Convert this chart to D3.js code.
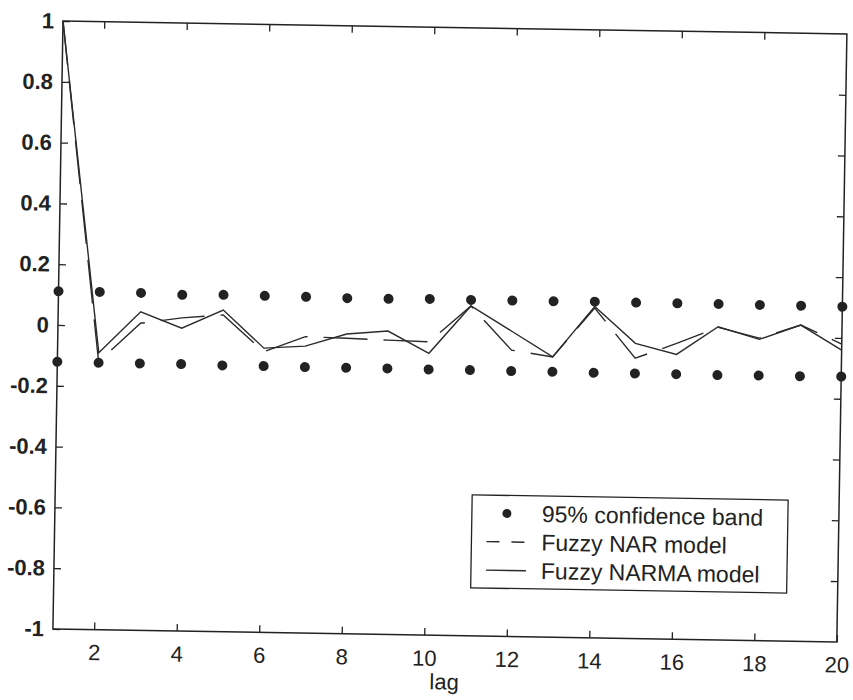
<!DOCTYPE html>
<html>
<head>
<meta charset="utf-8">
<script src="https://cdn.jsdelivr.net/npm/d3@7"></script>
<style>
  html, body { margin: 0; padding: 0; background: #fff; }
  svg { display: block; }
  text { font-family: "Liberation Sans", Arial, sans-serif; fill: #222; }
</style>
</head>
<body>
<svg id="chart" width="853" height="700"></svg>
<script>
// ---- data ----
const lags = [1,2,3,4,5,6,7,8,9,10,11,12,13,14,15,16,17,18,19,20];
const bandUpper = [0.111,0.111,0.110,0.106,0.108,0.107,0.106,0.104,0.104,0.106,0.105,0.105,0.105,0.106,0.105,0.105,0.105,0.104,0.104,0.103];
const bandLower = [-0.121,-0.122,-0.122,-0.122,-0.124,-0.124,-0.125,-0.125,-0.125,-0.126,-0.126,-0.127,-0.127,-0.128,-0.128,-0.128,-0.129,-0.128,-0.128,-0.127];
const narACF   = [1.0,-0.119,0.010,0.030,0.042,-0.077,-0.025,-0.028,-0.032,-0.035,0.085,-0.058,-0.078,0.085,-0.078,-0.027,0.028,-0.005,0.040,-0.020];
const narmaACF = [1.0,-0.089,0.048,-0.004,0.058,-0.065,-0.056,-0.014,-0.002,-0.073,0.085,0.004,-0.078,0.090,-0.029,-0.063,0.030,-0.009,0.040,-0.040];
const xTicks = [2,4,6,8,10,12,14,16,18,20];
const yTicks = [1,0.8,0.6,0.4,0.2,0,-0.2,-0.4,-0.6,-0.8,-1];
const xLabel = "lag";
const legendLabels = ["95% confidence band", "Fuzzy NAR model", "Fuzzy NARMA model"];

// ---- layout ----
const W = 784, H = 608;
const svg = d3.select("#chart");
const g = svg.append("g").attr("transform", "translate(63,21) rotate(0.95)");

const x = d3.scaleLinear().domain([1, 20]).range([0, W]);
const y = d3.scaleLinear().domain([-1, 1]).range([H, 0]);
const fmt = d => String(+d.toFixed(1));
const ink = "#222";

// frame
g.append("rect").attr("x", 0).attr("y", 0).attr("width", W).attr("height", H)
  .attr("fill", "none").attr("stroke", ink).attr("stroke-width", 1.5);

// axes (inward ticks)
const axB = g.append("g").attr("transform", `translate(0,${H})`)
  .call(d3.axisBottom(x).tickValues(xTicks).tickSize(-7).tickPadding(15).tickFormat(fmt));
const axT = g.append("g")
  .call(d3.axisTop(x).tickValues(xTicks.filter(d => d < 20)).tickSize(-7).tickFormat(""));
const axL = g.append("g")
  .call(d3.axisLeft(y).tickValues(yTicks).tickSize(-7).tickPadding(9).tickFormat(fmt));
const axR = g.append("g").attr("transform", `translate(${W},0)`)
  .call(d3.axisRight(y).tickValues(yTicks.filter(d => d > -1 && d < 1)).tickSize(-7).tickFormat(""));
[axB, axT, axL, axR].forEach(a => {
  a.select(".domain").remove();
  a.selectAll(".tick line").attr("stroke", ink).attr("stroke-width", 1.3);
});
axB.selectAll("text").attr("font-size", 22).attr("fill", ink)
  .attr("font-family", '"Liberation Sans", Arial, sans-serif');
axL.selectAll("text").attr("font-size", 22).attr("font-weight", "bold").attr("fill", ink)
  .attr("font-family", '"Liberation Sans", Arial, sans-serif');

// x label
g.append("text").attr("x", x(10.5)).attr("y", H + 54).attr("text-anchor", "middle")
  .attr("font-size", 22).text(xLabel);

// lines
const line = d3.line().x((d, i) => x(lags[i])).y(d => y(d));
g.append("path").datum(narmaACF).attr("d", line)
  .attr("fill", "none").attr("stroke", "#2b2b2b").attr("stroke-width", 1.4);
g.append("path").datum(narACF).attr("d", line)
  .attr("fill", "none").attr("stroke", "#2b2b2b").attr("stroke-width", 1.4)
  .attr("stroke-dasharray", "44,16");

// confidence band dots
const dots = g.append("g");
dots.selectAll("circle.up").data(bandUpper).enter().append("circle")
  .attr("cx", (d, i) => x(lags[i])).attr("cy", d => y(d)).attr("r", 5).attr("fill", ink);
dots.selectAll("circle.lo").data(bandLower).enter().append("circle")
  .attr("cx", (d, i) => x(lags[i])).attr("cy", d => y(d)).attr("r", 5).attr("fill", ink);

// legend
const lg = g.append("g");
lg.append("rect").attr("x", 417).attr("y", 467).attr("width", 316).attr("height", 93)
  .attr("fill", "#fff").attr("stroke", ink).attr("stroke-width", 1.3);
const rowY = [485, 513.5, 542];
lg.append("circle").attr("cx", 452).attr("cy", rowY[0]).attr("r", 4.5).attr("fill", ink);
lg.append("line").attr("x1", 432).attr("x2", 472).attr("y1", rowY[1]).attr("y2", rowY[1])
  .attr("stroke", "#2b2b2b").attr("stroke-width", 1.4).attr("stroke-dasharray", "13,12");
lg.append("line").attr("x1", 432).attr("x2", 472).attr("y1", rowY[2]).attr("y2", rowY[2])
  .attr("stroke", "#2b2b2b").attr("stroke-width", 1.4);
lg.selectAll("text.leg").data(legendLabels).enter().append("text")
  .attr("x", 487).attr("y", (d, i) => rowY[i] + 8)
  .attr("font-size", 23).text(d => d);
</script>
</body>
</html>
